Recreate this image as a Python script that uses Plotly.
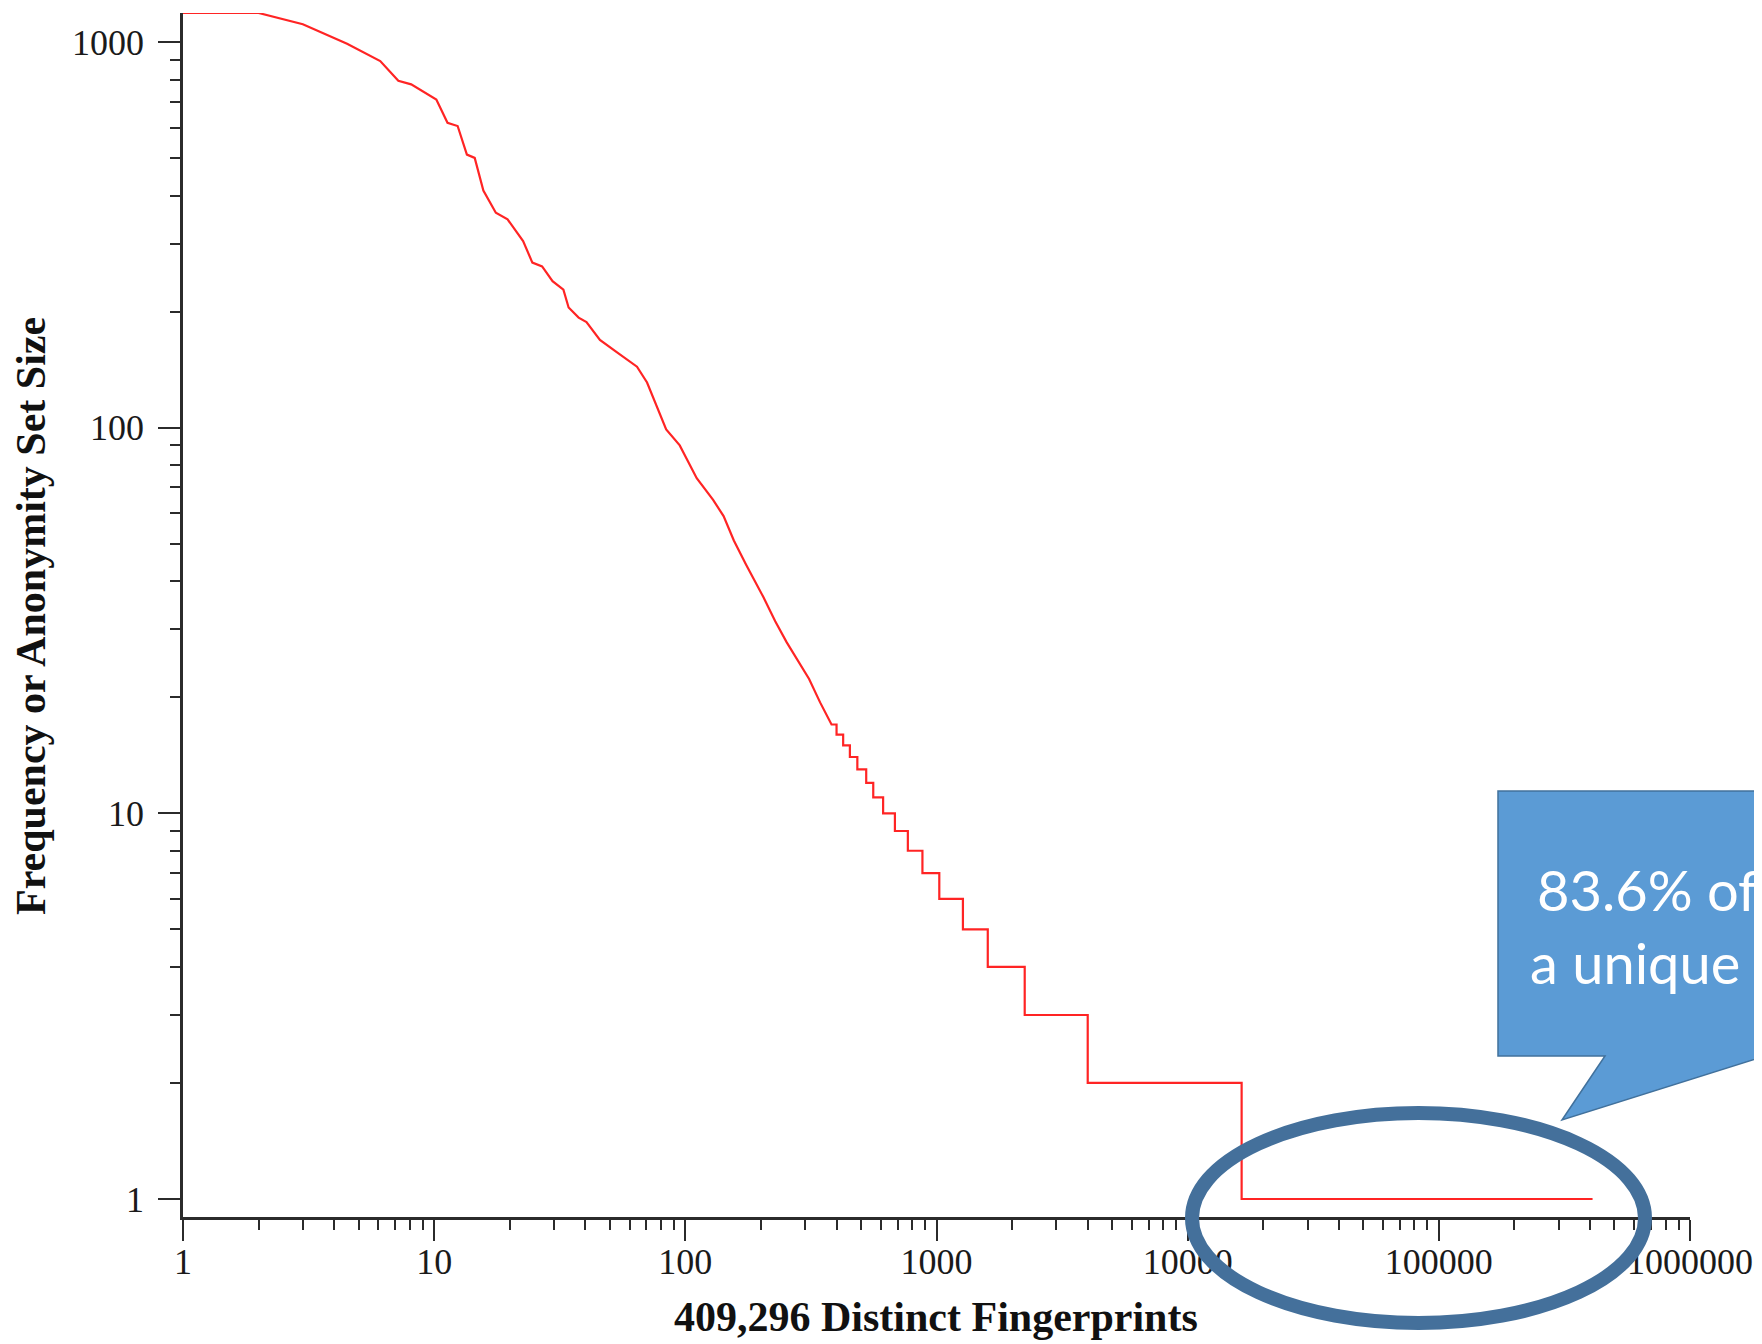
import math
import plotly.graph_objects as go

# ---------------- data ----------------
# smooth upper part of the curve: rank of fingerprint vs. anonymity-set size
rank_top = [1, 2, 3, 4.5, 6.1, 7.2, 8.1, 10.2, 11.3, 12.4,
            13.5, 14.5, 15.7, 17.6, 19.6, 22.6, 24.6, 26.9, 29.6, 32.7,
            34.3, 37.6, 40.4, 45.7, 53.3, 64.2, 70.4, 75, 83.9, 95,
            111, 129, 142, 156, 175, 204, 228, 253, 280, 311,
            344, 382]
size_top = [1190, 1190, 1113, 990, 893, 794, 777, 710, 618, 606,
            511, 501, 412, 361, 347, 305, 268, 262, 240, 228,
            205, 193, 188, 169, 157, 144, 131, 118, 99, 90,
            74, 65, 59, 51, 44, 36.5, 31.5, 27.8, 24.9, 22.3,
            19.4, 17]
# integer staircase part: size and the rank where that size starts
step_size = [16, 15, 14, 13, 12, 11, 10, 9, 8, 7, 6, 5, 4, 3, 2, 1]
step_start = [400, 425, 452, 484, 525, 560, 613, 683, 769, 879,
              1026, 1274, 1600, 2245, 4000, 16400]
total_fingerprints = 409296

x_tick_vals = [1, 10, 100, 1000, 10000, 100000, 1000000]
x_tick_text = ["1", "10", "100", "1000", "10000", "100000", "1000000"]
y_tick_vals = [1, 10, 100, 1000]
y_tick_text = ["1", "10", "100", "1000"]

x_title = "409,296 Distinct Fingerprints"
y_title = "Frequency or Anonymity Set Size"
callout_lines = ["83.6% of", "a unique"]

# ---------------- build line ----------------
xs = list(rank_top)
ys = list(size_top)
prev = ys[-1]
for s, r in zip(step_size, step_start):
    xs += [r, r]
    ys += [prev, s]
    prev = s
xs.append(total_fingerprints)
ys.append(step_size[-1])

# ---------------- geometry (screen px, page has 8px body margin) ----------------
OFF = 8
W, H = 1762 - OFF, 1344 - OFF
L, R, T, B = 183 - OFF, 1690 - OFF, 13 - OFF, 1217 - OFF


def pp(sx, sy):
    px, py = sx - OFF, sy - OFF
    return (px - L) / (R - L), (B - py) / (B - T)


minor_x = [m * 10 ** d for d in range(0, 6) for m in range(2, 10)]
minor_y = [m * 10 ** d for d in range(0, 3) for m in range(2, 10)]

fig = go.Figure()
fig.add_trace(go.Scatter(x=xs, y=ys, mode="lines",
                         line=dict(color="#ff2424", width=2.2),
                         showlegend=False, hoverinfo="skip"))

axis_col = "#2b2b2b"
tick_font = dict(family="Liberation Serif", size=36, color="#1a1a1a")

fig.update_xaxes(type="log", range=[0, 6], showgrid=False, zeroline=False,
                 showline=True, linecolor=axis_col, linewidth=2.5,
                 ticks="outside", ticklen=21, tickwidth=2, tickcolor=axis_col,
                 tickmode="array", tickvals=x_tick_vals, ticktext=x_tick_text,
                 tickfont=tick_font, ticklabelstandoff=-10,
                 minor=dict(ticks="outside", ticklen=10, tickwidth=2,
                            tickcolor=axis_col, tickvals=minor_x, showgrid=False))
fig.update_yaxes(type="log", range=[math.log10(0.898), math.log10(1190)],
                 showgrid=False, zeroline=False,
                 showline=True, linecolor=axis_col, linewidth=2.5,
                 ticks="outside", ticklen=22, tickwidth=2, tickcolor=axis_col,
                 tickmode="array", tickvals=y_tick_vals, ticktext=y_tick_text,
                 tickfont=tick_font, ticklabelstandoff=7,
                 minor=dict(ticks="outside", ticklen=10, tickwidth=2,
                            tickcolor=axis_col, tickvals=minor_y, showgrid=False))

annotations = []
xt = pp(936, 1317)
annotations.append(dict(xref="paper", yref="paper", x=xt[0], y=xt[1],
                        text="<b>" + x_title + "</b>", showarrow=False,
                        xanchor="center", yanchor="middle",
                        font=dict(family="Liberation Serif", size=42, color="#111")))
yt = pp(31, 616)
annotations.append(dict(xref="paper", yref="paper", x=yt[0], y=yt[1],
                        text="<b>" + y_title + "</b>", showarrow=False, textangle=-90,
                        xanchor="center", yanchor="middle",
                        font=dict(family="Liberation Serif", size=42, color="#111")))

# callout bubble
pts = [(1498, 791), (1950, 791), (1950, 1056), (1765, 1056), (1562, 1120),
       (1605, 1056), (1498, 1056)]
path = "M " + " L ".join("%.5f,%.5f" % pp(*p) for p in pts) + " Z"
shapes = [dict(type="path", xref="paper", yref="paper", path=path,
               fillcolor="#5b9bd5", line=dict(color="#41719c", width=1.5),
               layer="above")]
# ellipse
e0 = pp(1192, 1323)
e1 = pp(1645, 1113)
shapes.append(dict(type="circle", xref="paper", yref="paper",
                   x0=e0[0], y0=e0[1], x1=e1[0], y1=e1[1],
                   line=dict(color="#44709b", width=14), layer="above"))

for line, sx, sy in zip(callout_lines, [1535, 1528], [889, 962]):
    p = pp(sx, sy)
    annotations.append(dict(xref="paper", yref="paper", x=p[0], y=p[1],
                            text=line, showarrow=False, xanchor="left",
                            yanchor="middle",
                            font=dict(family="Lato", size=56, color="white")))

fig.update_layout(width=W, height=H, paper_bgcolor="white", plot_bgcolor="white",
                  margin=dict(l=L, r=W - R, t=T, b=H - B),
                  shapes=shapes, annotations=annotations)

fig.write_html("out.html")
